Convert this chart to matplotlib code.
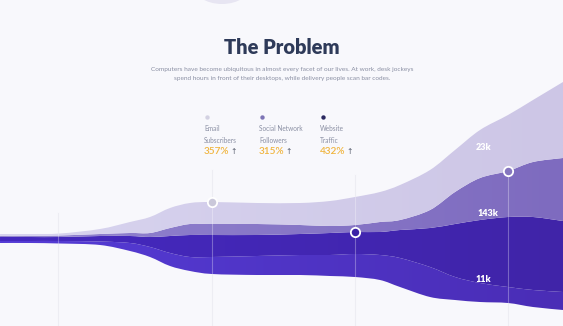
import numpy as np
import matplotlib
matplotlib.use("Agg")
import matplotlib.pyplot as plt
from matplotlib.patches import Ellipse, PathPatch
from matplotlib.path import Path
from matplotlib.colors import LinearSegmentedColormap

# sample positions along the timeline (chart units, left -> right)
t = np.array([0, 30, 60, 100, 130, 150, 170, 190, 212, 257, 300,
              330, 355, 380, 400, 430, 455, 480, 508, 533, 563])
# lower edge of the stream
baseline = np.array([83, 83, 82.5, 81, 75, 69, 60, 55, 52, 51, 51,
                     50, 49, 46, 39, 29, 26, 24, 23, 19, 16])
# layer thicknesses, bottom to top
direct = np.array([2, 2, 2.5, 3.5, 8, 10, 13, 14, 17, 19, 20,
                   21, 23, 25, 29, 30, 23, 19, 16, 17, 18])
website = np.array([4, 4, 4, 5.5, 7, 10, 17, 22, 22, 21, 21,
                    22, 22, 23, 28, 39, 53, 63, 70, 73, 71])
social = np.array([1, 1, 1.5, 2, 3, 4, 8, 11, 11, 11, 9,
                   7, 7, 10, 10, 18, 32, 42, 46, 55, 63])
email = np.array([2, 2, 2, 5, 11, 16, 20, 21, 22, 21, 22,
                  25, 28, 30, 35, 40, 42, 48, 56, 62, 76])

guides = [58, 212, 355, 508]
legend_names = ["Email\nSubscribers", "Social Network\nFollowers", "Website\nTraffic"]
legend_growth = ["357%", "315%", "432%"]
stream_labels = ["23k", "143k", "11k"]

title = "The Problem"
subtitle = ("Computers have become ubiquitous in almost every facet of our lives. At work, desk jockeys\n"
            "spend hours in front of their desktops, while delivery people scan bar codes.")

BG = "#f8f8fc"


def curve(x, y):
    """Smooth cubic segments through the points (Catmull-Rom style)."""
    p = np.column_stack([x, y]).astype(float)
    n = len(p)
    verts, codes = [p[0]], [Path.MOVETO]
    for k in range(n - 1):
        pm = p[k - 1] if k > 0 else p[k]
        pp = p[k + 2] if k + 2 < n else p[k + 1]
        verts += [p[k] + (p[k + 1] - pm) / 6, p[k + 1] - (pp - p[k]) / 6, p[k + 1]]
        codes += [Path.CURVE4] * 3
    return verts, codes


def band(ax, x, lo, hi, c_left, c_right):
    v1, c1 = curve(x, hi)
    v2, c2 = curve(x[::-1], lo[::-1])
    c2[0] = Path.LINETO
    path = Path(v1 + v2 + [v1[0]], c1 + c2 + [Path.CLOSEPOLY])
    patch = PathPatch(path, facecolor="none", edgecolor="none")
    ax.add_patch(patch)
    cmap = LinearSegmentedColormap.from_list("g", [c_left, c_right])
    im = ax.imshow(np.linspace(0, 1, 256)[None, :], cmap=cmap, aspect="auto",
                   extent=[x[0], x[-1], 0, 326], zorder=2, interpolation="bilinear")
    im.set_clip_path(patch)


fig = plt.figure(figsize=(5.63, 3.26), dpi=100, facecolor=BG)
ax = fig.add_axes([0, 0, 1, 1])
ax.set_facecolor(BG)

# faint blob peeking in at the top
ax.add_patch(Ellipse((222, 341), 58, 38, color="#e7e5f2", lw=0))

# stacked stream
b0 = baseline
b1 = b0 + direct
b2 = b1 + website
b3 = b2 + social
b4 = b3 + email
band(ax, t, b0, b1, "#553cd6", "#4a2db6")
band(ax, t, b1, b2, "#4529c0", "#4024a8")
band(ax, t, b2, b3, "#9183cf", "#7e6bbf")
band(ax, t, b3, b4, "#d8d4ef", "#cdc6e6")

ax.set_xlim(0, 563)
ax.set_ylim(0, 326)
ax.axis("off")

# guide lines
tops = {58: 113, 212: 156, 355: 151, 508: 155}
for g in guides:
    ax.plot([g, g], [0, tops[g]], color="#e6e6ef", lw=0.8, zorder=1)
    ax.plot([g, g], [0, tops[g]], color="white", lw=0.8, alpha=0.3, zorder=3)

# markers on the layer edges
i = list(t).index
ax.scatter([212], [b4[i(212)]], s=45, color="#cac8da", edgecolor="white", lw=1.3, zorder=4)
ax.scatter([355], [b2[i(355)]], s=45, color="#3b21a6", edgecolor="white", lw=1.3, zorder=4)
ax.scatter([508], [b3[i(508)]], s=45, color="#8576bf", edgecolor="white", lw=1.3, zorder=4)

# value labels in the stream
for (x, y), s in zip([(484, 179), (488, 113), (483, 47)], stream_labels):
    ax.text(x, y, s, color="white", fontsize=6.5, fontweight="heavy", family="Lato",
            ha="center", va="center", zorder=5)

# header
ax.text(282, 279, title, color="#2e3a59", fontsize=14.5, fontweight="heavy",
        family="Lato", ha="center", va="center")
ax.text(282, 252, subtitle, color="#8a8fa3", fontsize=4.65, family="Lato",
        ha="center", va="center", linespacing=1.8)

# legend
dot_colors = ["#d3d1e2", "#7d74b5", "#2b2960"]
for x0, name, grow, c in zip([204, 259, 320], legend_names, legend_growth, dot_colors):
    ax.scatter([x0 + 3], [209], s=10, color=c, lw=0)
    ax.text(x0, 201, name, color="#8a8fa3", fontsize=4.7, family="Lato",
            ha="left", va="top", linespacing=1.8)
    ax.text(x0, 174.5, grow, color="#f0b43c", fontsize=7.2, fontweight="semibold",
            family="Lato", ha="left", va="center")
    ax.text(x0 + 30, 174.5, "\u2191", color="#5a6070", fontsize=5.5, family="DejaVu Sans",
            ha="center", va="center")

fig.savefig("out.png", dpi=100, facecolor=BG)
